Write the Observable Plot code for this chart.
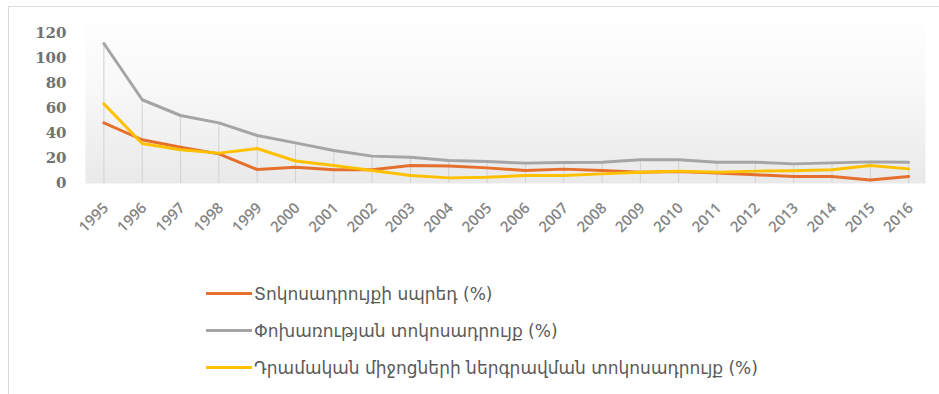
<!DOCTYPE html>
<html>
<head>
<meta charset="utf-8">
<script src="https://cdn.jsdelivr.net/npm/d3@7"></script>
<script src="https://cdn.jsdelivr.net/npm/@observablehq/plot@0.6"></script>
<style>
  html, body { margin: 0; padding: 0; background: #fff; }
  #wrap { position: relative; width: 939px; height: 394px; overflow: hidden; }
  #border { position: absolute; left: 8px; top: 6px; width: 960px; height: 420px; border: 1px solid #dcdcdc; box-sizing: border-box; pointer-events: none; }
  #chart svg { display: block; }
  #legend { padding-top: 5px; margin-left: 206px; font-family: "DejaVu Sans", sans-serif; font-size: 17px; color: #5a5a5a; }
  .row { display: flex; align-items: center; height: 37px; }
  .sw { width: 46px; height: 3px; margin-right: 2px; }
</style>
</head>
<body>
<div id="wrap">
  <div id="border"></div>
  <div id="chart"></div>
  <div id="legend"></div>
</div>
<script>
const years = [1995,1996,1997,1998,1999,2000,2001,2002,2003,2004,2005,2006,2007,2008,2009,2010,2011,2012,2013,2014,2015,2016];
const spread  = [48.5,35,29,23.7,11.2,13,11,11,14.4,14,12.5,10.4,11.5,10.4,9,9.6,8.3,7,5.6,5.6,2.8,5.6];
const lending = [112,67,54.4,48.5,38.4,32.5,26.4,21.9,21,18.4,17.6,16.3,16.8,17,19,19,17,17,15.7,16.5,17.3,17];
const deposit = [63.7,32,27,24.3,28,18,14.4,10.4,6.4,4.5,5,6.4,6.4,7.7,9,9.9,9,9.9,10.2,11,14.4,11.7];
const yTicks = [0,20,40,60,80,100,120];
const seriesNames = [
  "Տոկոսադրույքի սպրեդ (%)",
  "Փոխառության տոկոսադրույք (%)",
  "Դրամական միջոցների ներգրավման տոկոսադրույք (%)"
];
const seriesColors = ["#E5702E", "#A5A5A5", "#FFC000"];

const rows = (vals) => years.map((y, i) => ({year: y, value: vals[i]}));

const svg = Plot.plot({
  width: 939,
  height: 270,
  marginLeft: 85,
  marginRight: 14,
  marginTop: 12,
  marginBottom: 87,
  style: {background: "transparent"},
  x: {domain: [1994.52, 2016.44], axis: null},
  y: {domain: [0, 136.8], axis: null},
  marks: [
    Plot.frame({fill: "url(#bgGrad)", stroke: "none"}),
    Plot.ruleX(rows(lending), {x: "year", y1: 0, y2: "value", stroke: "#d2d2d2", strokeWidth: 1}),
    Plot.axisY({ticks: yTicks, tickSize: 0, tickPadding: 19, label: null, fontSize: 15, fontFamily: "DejaVu Serif", fontWeight: "bold", color: "#727272"}),
    Plot.text(years, {x: d => d, text: d => String(d), frameAnchor: "bottom", dy: 22, dx: 2, rotate: -45, textAnchor: "end", lineAnchor: "middle", fontSize: 15, fontFamily: "Open Sans", fontWeight: 600, fill: "#858585"}),
    Plot.line(rows(lending), {x: "year", y: "value", stroke: seriesColors[1], strokeWidth: 3}),
    Plot.line(rows(spread), {x: "year", y: "value", stroke: seriesColors[0], strokeWidth: 3}),
    Plot.line(rows(deposit), {x: "year", y: "value", stroke: seriesColors[2], strokeWidth: 3})
  ]
});

d3.select(svg).insert("defs", ":first-child").html(
  '<linearGradient id="bgGrad" x1="0" y1="0" x2="0" y2="1">' +
  '<stop offset="0" stop-color="#ffffff"/><stop offset="0.45" stop-color="#f8f8f8"/><stop offset="1" stop-color="#e9e9e9"/>' +
  '</linearGradient>'
);
document.getElementById("chart").appendChild(svg);

const legend = d3.select("#legend");
seriesNames.forEach((name, i) => {
  const r = legend.append("div").attr("class", "row");
  r.append("span").attr("class", "sw").style("background", seriesColors[i]);
  r.append("span").text(name);
});
</script>
</body>
</html>
